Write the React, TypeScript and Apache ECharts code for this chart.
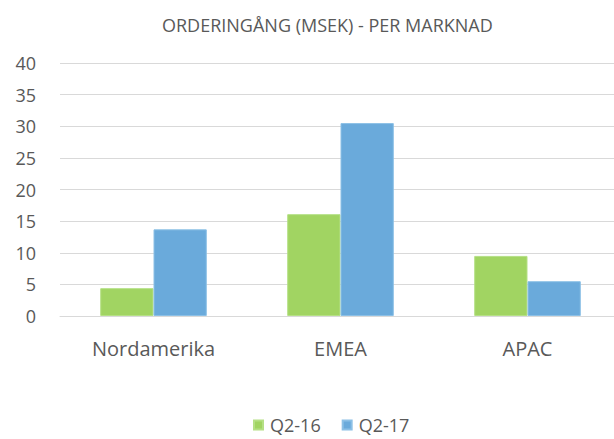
import React, { useEffect, useRef } from "react";
import * as echarts from "echarts";

const categories = ["Nordamerika", "EMEA", "APAC"];
const q216 = [4.4, 16.1, 9.5];
const q217 = [13.7, 30.5, 5.5];
const seriesNames = ["Q2-16", "Q2-17"];

export default function App() {
  const ref = useRef<HTMLDivElement>(null);
  useEffect(() => {
    const chart = echarts.init(ref.current!, null, { renderer: "svg" });
    const font = "'Open Sans', 'Liberation Sans', sans-serif";
    chart.setOption({
      animation: false,
      title: {
        text: "ORDERINGÅNG (MSEK) - PER MARKNAD",
        left: 157,
        top: 11,
        textStyle: { color: "#595959", fontSize: 18, fontWeight: "normal", fontFamily: font },
      },
      legend: {
        data: seriesNames,
        top: 416,
        left: 253,
        padding: 0,
        itemWidth: 9,
        itemHeight: 9,
        itemGap: 21,
        icon: "rect",
        textStyle: {
          color: "#595959",
          fontSize: 18,
          lineHeight: 18,
          fontFamily: font,
          padding: [0, 0, 0, 2],
        },
      },
      grid: { left: 60, right: 1, top: 63, bottom: 123 },
      xAxis: {
        type: "category",
        data: categories,
        axisLine: { lineStyle: { color: "#d9d9d9" } },
        axisTick: { show: false },
        axisLabel: { color: "#595959", fontSize: 20, fontFamily: font, margin: 22 },
      },
      yAxis: {
        type: "value",
        min: 0,
        max: 40,
        interval: 5,
        axisLine: { show: false },
        axisTick: { show: false },
        splitLine: { lineStyle: { color: "#d9d9d9", width: 1 } },
        axisLabel: { color: "#595959", fontSize: 18, fontFamily: font, margin: 24 },
      },
      series: [
        {
          name: seriesNames[0],
          type: "bar",
          data: q216,
          barGap: "0%",
          barCategoryGap: "43%",
          itemStyle: { color: "#a1d462", borderColor: "#b5e085", borderWidth: 1 },
        },
        {
          name: seriesNames[1],
          type: "bar",
          data: q217,
          barGap: "0%",
          barCategoryGap: "43%",
          itemStyle: { color: "#6aaadb", borderColor: "#8cc0e6", borderWidth: 1 },
        },
      ],
    });
    return () => chart.dispose();
  }, []);
  return (
    <div
      style={{
        position: "absolute",
        left: 0,
        top: 0,
        width: 614,
        height: 439,
        overflow: "hidden",
      }}
    >
      <div ref={ref} style={{ width: 622, height: 439 }} />
    </div>
  );
}
